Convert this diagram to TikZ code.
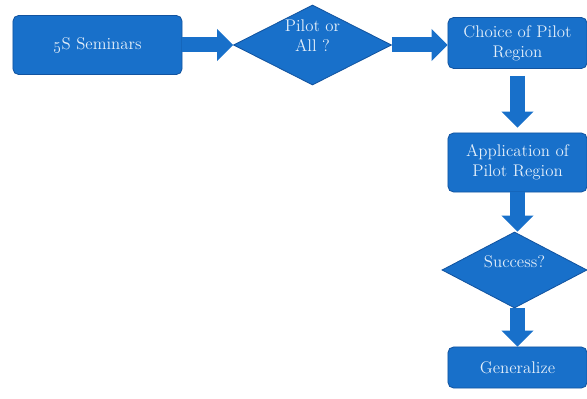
\documentclass[tikz,border=0pt]{standalone}
\usepackage{tikz}
\usetikzlibrary{shapes.geometric, arrows.meta, positioning}
\definecolor{flowBlue}{RGB}{24,112,202}
\definecolor{flowEdge}{RGB}{18,84,160}
\definecolor{flowText}{RGB}{228,239,250}

\begin{document}
\begin{tikzpicture}[x=0.025cm, y=-0.025cm,
        proc/.style={rectangle, rounded corners=4pt, draw=flowEdge, fill=flowBlue, line width=0.6pt, minimum height=1.475cm, align=center, font=\large, text=flowText, inner sep=2pt},
        decide/.style={diamond, aspect=2, draw=flowEdge, fill=flowBlue, line width=0.6pt, align=center, font=\large, text=flowText, inner sep=1pt, text height=0pt, text depth=3pt},
        blockarrow/.style={-{Triangle[length=0.4cm, width=0.78cm]}, line width=0.375cm, draw=flowBlue}]
        \useasboundingbox (0,0) rectangle (587,399);
        \node[proc, minimum width=4.225cm] (seminars) at (97.5,45) {\oldstylenums{5}S Seminars};
        \node[decide, minimum width=3.95cm, minimum height=2cm, text height=9pt, text depth=0pt] (pilot) at (312.5,45) {Pilot or\\All ?};
        \node[proc, minimum width=3.475cm, minimum height=1.275cm] (choice) at (517.5,43) {Choice of Pilot\\Region};
        \node[proc, minimum width=3.475cm] (application) at (517.5,162.5) {Application of\\Pilot Region};
        \node[decide, minimum width=3.625cm, minimum height=1.9cm] (success) at (514.5,270) {Success?};
        \node[proc, minimum width=3.475cm, minimum height=1.025cm] (generalize) at (517.5,367.5) {Generalize};
        \draw[blockarrow] (seminars.east) -- (pilot.west);
        \draw[blockarrow] (pilot.east) -- (pilot.east -| choice.west);
        \draw[blockarrow, shorten <=0.175cm, shorten >=0.125cm] (choice.south) -- (application.north);
        \draw[blockarrow] (application.south) -- (success.north -| application.south);
        \draw[blockarrow] (success.south -| generalize.north) -- (generalize.north);
    \end{tikzpicture}
\end{document}
